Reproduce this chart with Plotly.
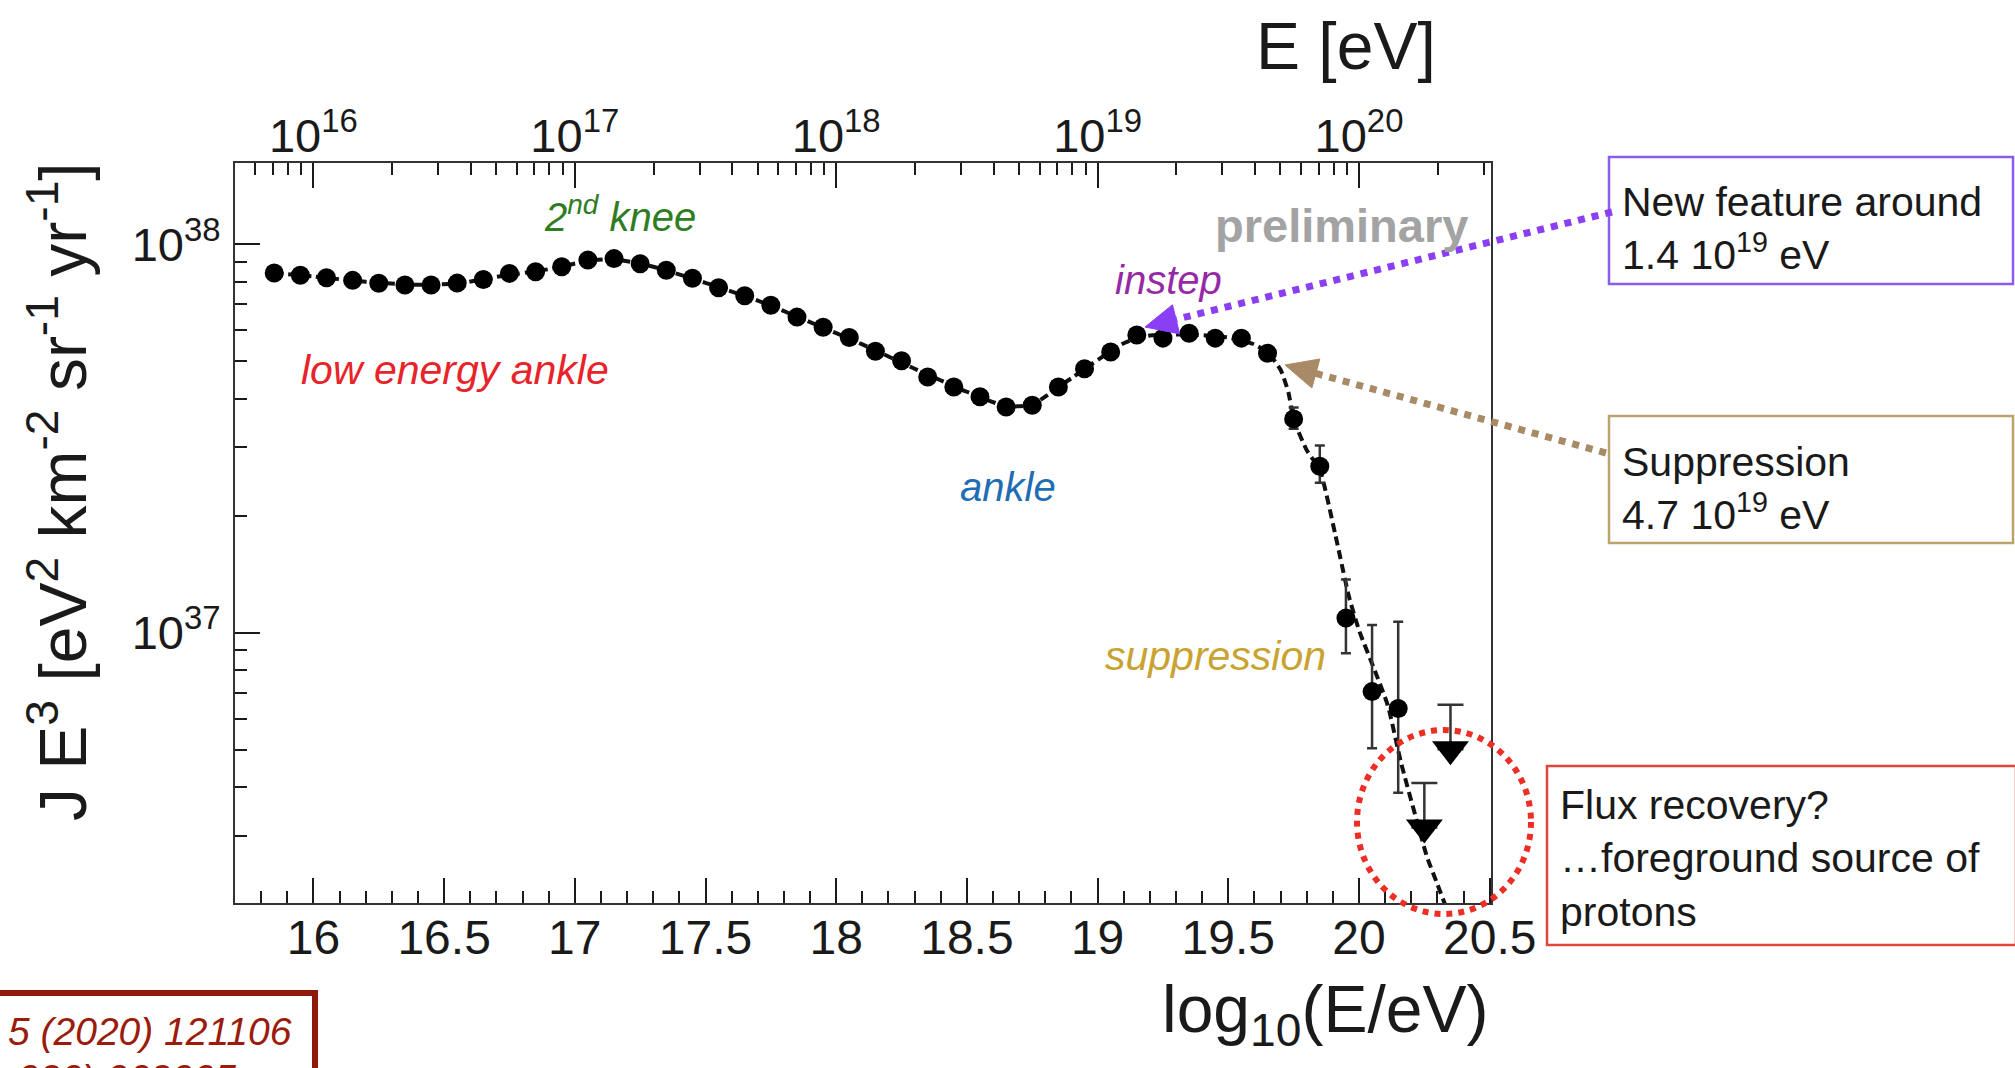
import plotly.graph_objects as go

# ---------------- data ----------------
log_e = [15.85, 15.95, 16.05, 16.15, 16.25, 16.35, 16.45, 16.55, 16.65, 16.75,
         16.85, 16.95, 17.05, 17.15, 17.25, 17.35, 17.45, 17.55, 17.65, 17.75,
         17.85, 17.95, 18.05, 18.15, 18.25, 18.35, 18.45, 18.55, 18.65, 18.75,
         18.85, 18.95, 19.05, 19.15, 19.25, 19.35, 19.45, 19.55, 19.65, 19.75,
         19.85, 19.95, 20.05, 20.15]
# J E^3 in units of 1e37 eV^2 km^-2 sr^-1 yr^-1
flux_e37 = [8.43, 8.32, 8.20, 8.07, 7.93, 7.85, 7.85, 7.94, 8.11, 8.41,
            8.49, 8.75, 9.10, 9.18, 8.91, 8.57, 8.17, 7.72, 7.37, 6.96,
            6.49, 6.11, 5.75, 5.30, 5.01, 4.55, 4.29, 4.05, 3.81, 3.85,
            4.29, 4.78, 5.28, 5.84, 5.73, 5.90, 5.73, 5.73, 5.24, 3.55,
            2.68, 1.09, 0.705, 0.638]
err_up_e37 = [0, 0, 0, 0, 0, 0, 0, 0, 0, 0,
              0, 0, 0, 0, 0, 0, 0, 0, 0, 0,
              0, 0, 0, 0, 0, 0, 0, 0, 0, 0,
              0, 0, 0, 0, 0, 0, 0, 0, 0, 0.25,
              0.35, 0.28, 0.341, 0.429]
err_dn_e37 = [0, 0, 0, 0, 0, 0, 0, 0, 0, 0,
              0, 0, 0, 0, 0, 0, 0, 0, 0, 0,
              0, 0, 0, 0, 0, 0, 0, 0, 0, 0,
              0, 0, 0, 0, 0, 0, 0, 0, 0, 0.20,
              0.25, 0.205, 0.201, 0.251]

# upper limits: limit value (cap) and where the arrow head sits
ul_log_e = [20.25, 20.35]
ul_cap_e37 = [0.410, 0.652]
ul_arrow_e37 = [0.315, 0.501]

# dashed fit curve
fit_log_e = [15.85, 16.0, 16.2, 16.4, 16.55, 16.7, 16.9, 17.05, 17.15, 17.3,
             17.5, 17.7, 17.9, 18.1, 18.3, 18.5, 18.65, 18.75, 18.9, 19.1,
             19.2, 19.35, 19.5, 19.6, 19.653, 19.70, 19.73, 19.75, 19.80, 19.85,
             19.91, 19.96, 20.00, 20.06, 20.11, 20.16, 20.22, 20.26, 20.30, 20.33]
fit_e37 = [8.43, 8.26, 8.00, 7.86, 7.92, 8.24, 8.62, 9.05, 9.15, 8.75,
           7.95, 7.16, 6.30, 5.52, 4.78, 4.17, 3.83, 3.87, 4.52, 5.56,
           5.82, 5.85, 5.75, 5.52, 5.24, 4.75, 4.15, 3.55, 2.95, 2.62,
           1.78, 1.25, 1.015, 0.80, 0.65, 0.465, 0.33, 0.265, 0.225, 0.199]

x_range = [15.7, 20.505]
y_log_range = [36.304, 38.209]
top_tick_exp = [16, 17, 18, 19, 20]
y_tick_exp = [37, 38]

SCALE = 1e37
flux = [v * SCALE for v in flux_e37]
err_up = [v * SCALE for v in err_up_e37]
err_dn = [v * SCALE for v in err_dn_e37]
ul_arrow = [v * SCALE for v in ul_arrow_e37]
ul_len = [(c - a) * SCALE for c, a in zip(ul_cap_e37, ul_arrow_e37)]
fit = [v * SCALE for v in fit_e37]

# ---------------- geometry helpers (pixels -> paper) ----------------
W, H = 2015, 1068
L, T, PW, PH = 235, 163, 1256, 740


def px(x):
    return (x - L) / PW


def py(y):
    return 1 - (y - T) / PH


FONT = "Liberation Sans, Arial, Helvetica, sans-serif"
INK = "#1a1a1a"

fig = go.Figure()

fig.add_trace(go.Scatter(
    x=fit_log_e, y=fit, mode="lines",
    line=dict(color="#111111", width=4, dash="9px,5px", shape="spline", smoothing=0.6),
    hoverinfo="skip"))

fig.add_trace(go.Scatter(
    x=log_e, y=flux, mode="markers",
    marker=dict(symbol="circle", size=19, color="#000000"),
    error_y=dict(type="data", symmetric=False, array=err_up, arrayminus=err_dn,
                 color="#333333", thickness=2.5, width=5)))

fig.add_trace(go.Scatter(
    x=ul_log_e, y=ul_arrow, mode="markers",
    marker=dict(symbol="triangle-down", size=32, color="#000000"),
    error_y=dict(type="data", symmetric=False, array=ul_len,
                 arrayminus=[0.0] * len(ul_len), color="#333333", thickness=2.5, width=13)))

# invisible trace to activate the top energy axis
fig.add_trace(go.Scatter(
    x=[10.0 ** v for v in log_e], y=flux, xaxis="x2", mode="markers",
    marker=dict(opacity=0), hoverinfo="skip"))

# minor tick positions for log axes
top_minor = [k * 10.0 ** n for n in range(15, 21) for k in range(2, 10)]
y_minor = [k * 10.0 ** n for n in range(36, 38) for k in range(2, 10)]

fig.update_layout(
    width=W, height=H,
    margin=dict(l=L, r=W - L - PW, t=T, b=H - T - PH),
    paper_bgcolor="white", plot_bgcolor="white",
    showlegend=False,
    xaxis=dict(
        range=x_range, tickmode="linear", tick0=16, dtick=0.5,
        ticks="inside", ticklen=25, tickwidth=2, tickcolor=INK,
        minor=dict(tick0=16, dtick=0.1, ticks="inside", ticklen=12,
                   tickwidth=2, tickcolor=INK),
        showline=True, linecolor="#333333", linewidth=2, mirror=False,
        showgrid=False, zeroline=False,
        tickfont=dict(family=FONT, size=48, color=INK),
        ticklabelstandoff=-9),
    xaxis2=dict(
        overlaying="x", side="top", anchor="y", type="log", range=x_range,
        tickmode="array", tickvals=[10.0 ** e for e in top_tick_exp],
        ticktext=["10<sup>%d</sup>" % e for e in top_tick_exp],
        ticks="inside", ticklen=25, tickwidth=2, tickcolor=INK,
        minor=dict(tickmode="array", tickvals=top_minor, ticks="inside",
                   ticklen=12, tickwidth=2, tickcolor=INK),
        showline=True, linecolor="#333333", linewidth=2,
        showgrid=False, zeroline=False,
        tickfont=dict(family=FONT, size=47, color=INK),
        ticklabelstandoff=-10),
    yaxis=dict(
        type="log", range=y_log_range,
        tickmode="array", tickvals=[10.0 ** e for e in y_tick_exp],
        ticktext=["10<sup>%d</sup>" % e for e in y_tick_exp],
        ticks="inside", ticklen=25, tickwidth=2, tickcolor=INK,
        minor=dict(tickmode="array", tickvals=y_minor, ticks="inside",
                   ticklen=12, tickwidth=2, tickcolor=INK),
        showline=True, linecolor="#333333", linewidth=2, mirror=True,
        showgrid=False, zeroline=False,
        tickfont=dict(family=FONT, size=47, color=INK),
        ticklabelstandoff=3),
)

ann = []


def text(x, y, s, size, color, italic=False, bold=False, xanchor="center",
         yanchor="middle", angle=0, align="center"):
    f = dict(family=FONT, size=size, color=color)
    if italic:
        f["style"] = "italic"
    if bold:
        f["weight"] = "bold"
    ann.append(dict(x=px(x), y=py(y), xref="paper", yref="paper", text=s,
                    showarrow=False, font=f, xanchor=xanchor, yanchor=yanchor,
                    textangle=angle, align=align))


# axis titles
text(1346, 46, "E [eV]", 66, INK)
text(1325, 1014, "log<sub>10</sub>(E/eV)", 66, INK)
text(58, 492, "J E<sup>3</sup> [eV<sup>2</sup> km<sup>-2</sup> sr<sup>-1</sup> yr<sup>-1</sup>]",
     66, INK, angle=-90)

# feature labels
text(620, 214, "2<sup>nd</sup> knee", 40, "#2f7d22", italic=True)
text(455, 370, "low energy ankle", 41, "#e8232a", italic=True)
text(1008, 487, "ankle", 40, "#1f6db3", italic=True)
text(1168, 280, "instep", 40, "#962aa6", italic=True)
text(1341, 225, "preliminary", 47, "#a3a3a3", bold=True)
text(1215, 656, "suppression", 41, "#c9a332", italic=True)

# boxed comments
text(1620, 228, "New feature around<br>1.4 10<sup>19</sup> eV", 41, INK,
     xanchor="left", align="left")
text(1620, 488, "Suppression<br>4.7 10<sup>19</sup> eV", 41, INK,
     xanchor="left", align="left")
text(1558, 858, "Flux recovery?<br>…foreground source of<br>protons", 41, INK,
     xanchor="left", align="left")

# reference box text (as much as the reference shows)
text(294, 1031, "5 (2020) 121106", 39, "#9b1b0d", italic=True, xanchor="right")
text(238, 1078, "020) 062005", 39, "#9b1b0d", italic=True, xanchor="right")

fig.update_layout(annotations=ann)

shapes = []


def rect(x0, y0, x1, y1, color, width):
    shapes.append(dict(type="rect", xref="paper", yref="paper",
                       x0=px(x0), x1=px(x1), y0=py(y0), y1=py(y1),
                       line=dict(color=color, width=width), layer="above"))


def dotted(x0, y0, x1, y1, color, width):
    shapes.append(dict(type="line", xref="paper", yref="paper",
                       x0=px(x0), x1=px(x1), y0=py(y0), y1=py(y1),
                       line=dict(color=color, width=width, dash="dot"), layer="above"))


def head(tipx, tipy, fromx, fromy, color, length=32, half=15):
    dx, dy = fromx - tipx, fromy - tipy
    n = (dx * dx + dy * dy) ** 0.5
    ux, uy = dx / n, dy / n
    bx, by = tipx + ux * length, tipy + uy * length
    p1 = (bx - uy * half, by + ux * half)
    p2 = (bx + uy * half, by - ux * half)
    path = "M %f,%f L %f,%f L %f,%f Z" % (px(tipx), py(tipy), px(p1[0]), py(p1[1]),
                                           px(p2[0]), py(p2[1]))
    shapes.append(dict(type="path", xref="paper", yref="paper", path=path,
                       fillcolor=color, line=dict(color=color, width=1), layer="above"))
    return bx, by


rect(1609, 157, 2013, 284, "#8b5cf0", 2.5)
rect(1609, 416, 2013, 543, "#b9a46c", 2.5)
rect(1547, 766, 2016, 945, "#e2463b", 2.5)
rect(-20, 993, 315, 1110, "#8f1a0b", 6)

purple = "#8a3ff5"
bx, by = head(1145, 327, 1612, 212, purple)
dotted(1612, 212, bx, by, purple, 7)
brown = "#a88b66"
bx, by = head(1285, 365, 1606, 453, brown)
dotted(1606, 453, bx, by, brown, 7)

shapes.append(dict(type="circle", xref="paper", yref="paper",
                   x0=px(1357), x1=px(1531), y0=py(914), y1=py(730),
                   line=dict(color="#ee2e24", width=6, dash="dot"), layer="above"))

fig.update_layout(shapes=shapes)

fig.write_html("out.html")
